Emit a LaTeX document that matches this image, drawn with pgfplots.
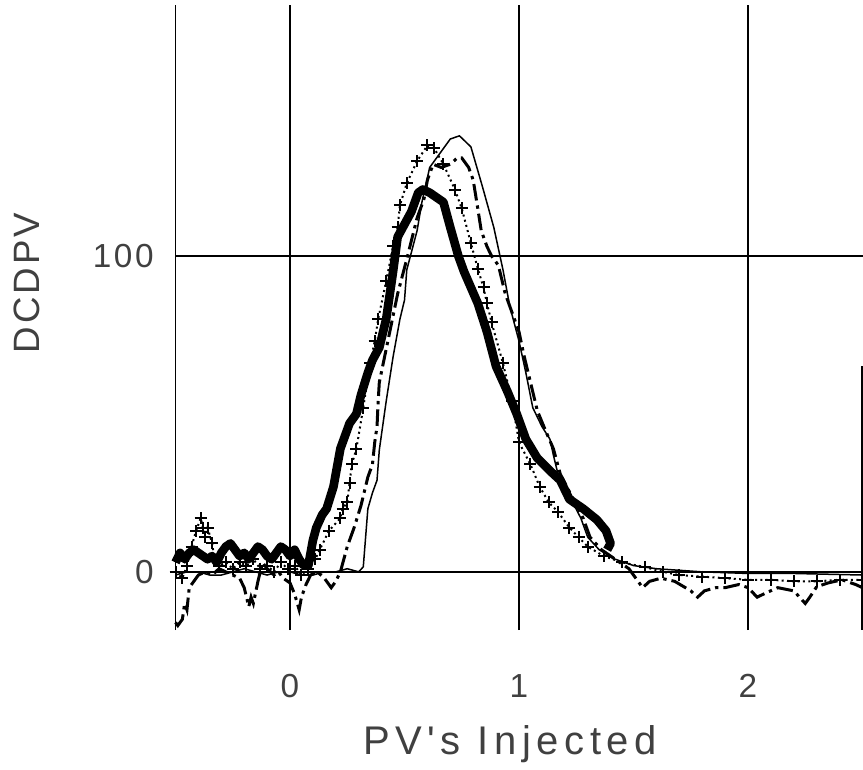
\documentclass[border=0pt]{standalone}
\usepackage{pgfplots}
\pgfplotsset{compat=1.18}
\usepackage{fontspec}
\setmainfont{Liberation Sans}
\newfontfamily\plotfont[LetterSpace=8]{Liberation Sans}
\newfontfamily\labelfont[LetterSpace=14]{Liberation Sans}
\begin{document}
\begin{tikzpicture}
\begin{axis}[name=ax, scale only axis, width=206.1pt, height=187.5pt,
  xmin=-0.5, xmax=2.5, ymin=-18.4, ymax=179.4,
  axis line style={draw=none},
  xtick={0,1,2}, ytick={0,100},
  extra x ticks={-0.5}, extra x tick labels={},
  xmajorgrids, ymajorgrids,
  major grid style={black, line width=0.55pt},
  major tick length=0pt,
  /pgf/number format/assume math mode=true,
  ticklabel style={font=\plotfont\fontsize{10}{12}\selectfont, text=black!75},
  xticklabel style={anchor=center, yshift=-16.8pt},
  yticklabel style={anchor=east, xshift=-3pt},
  xlabel={PV's Injected}, ylabel={DCDPV},
  xlabel style={at={(axis description cs:0.487,-0.182)}, anchor=center, font=\labelfont\fontsize{12}{14}\selectfont, text=black!75},
  ylabel style={at={(axis description cs:-0.216,0.555)}, anchor=center, font=\plotfont\fontsize{11}{13}\selectfont, text=black!75},
  clip=false]

% heavy series
\addplot[black, line width=2.6pt, line join=round] coordinates {
(-0.5,3) (-0.48,6) (-0.46,4) (-0.44,6) (-0.42,7) (-0.40,6) (-0.38,5) (-0.36,4) (-0.34,5) (-0.32,3)
(-0.30,6) (-0.28,8) (-0.26,9) (-0.24,7) (-0.22,5) (-0.20,6) (-0.18,4) (-0.16,6) (-0.14,8) (-0.12,7)
(-0.10,5) (-0.08,4) (-0.06,6) (-0.04,8) (-0.02,7) (0.00,5) (0.02,7) (0.04,4) (0.06,2) (0.08,2)
(0.10,10) (0.115,14) (0.14,18) (0.16,20) (0.19,27) (0.22,39) (0.26,47) (0.29,50) (0.31,56) (0.34,63)
(0.36,67) (0.39,71) (0.42,80) (0.45,95) (0.47,106) (0.50,110) (0.53,114) (0.56,120) (0.58,121) (0.61,120)
(0.63,119) (0.67,117) (0.70,109) (0.735,100) (0.76,95) (0.79,90) (0.82,85) (0.86,76) (0.90,65) (0.95,57)
(0.99,50) (1.03,42) (1.08,36) (1.135,32) (1.18,29) (1.22,23) (1.28,20) (1.34,16.5) (1.38,13) (1.40,9) (1.385,7)
};

% plus-marked dotted series
\addplot[black, densely dotted, line width=0.6pt, mark=+, mark size=1.8pt, mark options={solid, line width=0.6pt}] coordinates {
(-0.5,0) (-0.47,-2) (-0.45,2) (-0.43,8) (-0.41,13) (-0.39,17) (-0.38,14) (-0.37,11) (-0.36,14) (-0.34,9)
(-0.33,4) (-0.31,2) (-0.28,3) (-0.25,1) (-0.22,3) (-0.19,2) (-0.16,4) (-0.13,1) (-0.10,2) (-0.07,0)
(-0.04,3) (-0.01,1) (0.02,2) (0.05,-1) (0.08,1) (0.11,4) (0.13,7) (0.17,13) (0.22,17) (0.23,20)
(0.25,22) (0.26,28) (0.27,34) (0.29,39) (0.32,52) (0.35,66) (0.37,73) (0.385,80) (0.42,92) (0.45,103)
(0.47,109) (0.48,116) (0.51,123) (0.555,130) (0.60,135) (0.63,134) (0.67,129) (0.72,121) (0.75,115) (0.79,104)
(0.82,96) (0.845,90) (0.86,85) (0.88,79) (0.93,66) (0.97,54) (1.00,41) (1.05,34) (1.09,27) (1.13,22)
(1.17,19) (1.22,14) (1.26,11) (1.30,8) (1.37,5) (1.45,3) (1.55,1.5) (1.63,0) (1.70,-1) (1.80,-1.5)
(1.90,-2) (2.00,-2.5) (2.10,-2.5) (2.20,-3) (2.30,-3) (2.40,-2.5) (2.50,-2.5)
};

% thin solid series
\addplot[black, line width=0.45pt] coordinates {
(-0.5,-1) (-0.45,0) (-0.4,0) (-0.35,-1) (-0.3,-1) (-0.25,0) (-0.2,1) (-0.15,0) (-0.1,-1) (-0.05,0)
(0.0,0) (0.05,-1) (0.1,-1) (0.15,0) (0.2,0) (0.25,1) (0.3,0) (0.32,1.6) (0.34,20) (0.36,25)
(0.38,29) (0.39,38.6) (0.42,54) (0.45,68) (0.48,80) (0.50,86) (0.51,95.6) (0.555,108) (0.576,117) (0.61,128)
(0.70,137) (0.74,138) (0.79,134.5) (0.84,122) (0.89,109) (0.93,95.6) (0.96,84) (1.00,73) (1.03,63) (1.06,52)
(1.10,46) (1.135,42) (1.15,37) (1.17,31) (1.27,17) (1.30,11) (1.35,7) (1.42,4) (1.50,2) (1.60,1)
(1.80,0) (2.00,-0.5) (2.20,-0.5) (2.50,-1)
};

% dashed series
\addplot[black, line width=0.9pt, dash pattern=on 5pt off 1.5pt on 1pt off 1.5pt] coordinates {
(-0.5,-16) (-0.49,-17) (-0.47,-15) (-0.46,-10) (-0.45,-12) (-0.44,-5) (-0.42,-3) (-0.40,-1) (-0.37,0) (-0.34,-1)
(-0.31,1) (-0.28,0) (-0.25,-1) (-0.22,-2) (-0.20,-5) (-0.18,-11) (-0.17,-8) (-0.16,-10) (-0.14,-3) (-0.12,3)
(-0.10,1) (-0.07,-1) (-0.05,0) (-0.03,-2) (0.00,-3.5) (0.02,-7) (0.04,-12) (0.05,-8) (0.07,-4) (0.09,-1)
(0.12,0) (0.15,-2) (0.18,-5) (0.20,-3) (0.22,0) (0.25,8) (0.28,14) (0.31,21) (0.34,30) (0.36,34)
(0.37,41) (0.38,46) (0.385,54) (0.39,60) (0.43,74) (0.47,88) (0.51,99) (0.555,112) (0.585,118) (0.60,124)
(0.625,129) (0.66,128) (0.70,129) (0.73,131) (0.75,131) (0.78,128) (0.80,124) (0.82,115) (0.835,108) (0.86,103)
(0.88,100) (0.91,97) (0.94,88) (0.97,82) (1.00,76) (1.02,69) (1.05,60) (1.08,51) (1.12,44) (1.15,39)
(1.18,31) (1.23,24) (1.28,17) (1.31,11) (1.36,7) (1.42,4) (1.48,1) (1.52,-3) (1.54,-5) (1.57,-3)
(1.62,-2) (1.68,-3) (1.75,-6) (1.78,-8) (1.81,-6) (1.86,-5) (1.90,-5) (1.96,-4) (2.00,-5) (2.04,-8)
(2.08,-6.6) (2.13,-5) (2.20,-6) (2.25,-10) (2.27,-8) (2.30,-4.7) (2.35,-3.5) (2.41,-2.5) (2.47,-4) (2.50,-5)
};

\draw[black, line width=0.7pt] (axis cs:2.5,65) -- (axis cs:2.5,-18.4);
\end{axis}
\pgfresetboundingbox
\path ([xshift=-52.65pt,yshift=-41.7pt]ax.south west) rectangle ([xshift=0.15pt,yshift=1.5pt]ax.north east);
\end{tikzpicture}
\end{document}
